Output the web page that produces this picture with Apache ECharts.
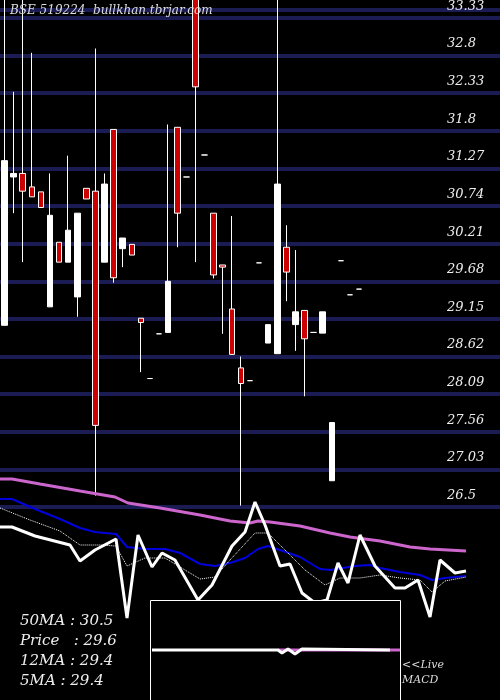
<!DOCTYPE html>
<html><head><meta charset="utf-8">
<script src="https://cdn.jsdelivr.net/npm/echarts@6/dist/echarts.min.js"></script>
<style>html,body{margin:0;padding:0;background:#000}#c{width:500px;height:700px}</style>
</head><body><div id="c"></div>
<script>
// candles: [open, close, low, high]; doji entries drawn as dashes
const candles = [
 [29.06,31.38,29.06,34],[31.15,31.20,30.64,32.35],[31.20,30.95,29.95,34],[31.01,30.87,30.87,32.90],
 [30.94,30.72,30.72,30.94],[29.32,30.61,29.32,31.20],[30.23,29.95,29.95,30.23],[29.95,30.40,29.95,31.45],
 [29.46,30.64,29.18,30.64],[30.99,30.84,30.84,30.99],[30.95,27.65,26.66,32.96],[29.95,31.05,29.95,31.20],
 [31.82,29.73,29.66,31.82],[30.14,30.29,29.88,30.29],[30.20,30.05,30.05,30.20],[29.16,29.10,28.40,29.16],
 [28.31,28.31,28.31,28.31],[28.94,28.94,28.94,28.94],[28.96,29.68,28.96,31.89],[31.85,30.64,30.16,31.85],
 [31.15,31.15,31.15,31.15],[34,32.42,29.95,34],[31.46,31.46,31.46,31.46],[30.64,29.77,29.72,30.64],
 [29.91,29.88,28.94,29.91],[29.29,28.65,28.65,30.60],[28.46,28.24,26.52,28.62],[28.28,28.28,28.28,28.28],
 [29.94,29.94,29.94,29.94],[28.81,29.07,28.81,29.07],[28.66,31.05,28.66,34],[30.16,29.81,29.40,30.47],
 [29.07,29.25,28.70,30.12],[29.27,28.87,28.06,29.27],[28.96,28.96,28.96,28.96],[28.95,29.25,28.95,29.25],
 [26.87,27.69,26.87,27.69],[29.97,29.97,29.97,29.97],[29.49,29.49,29.49,29.49],[29.57,29.57,29.57,29.57]
];
const slots = 55;
const categories = Array.from({length: slots}, (_, i) => String(i + 1));
const priceTicks = [26.5,27.03,27.56,28.09,28.62,29.15,29.68,30.21,30.74,31.27,31.8,32.33,32.8,33.33];
// indicator lines (x, level as read in picture units)
const ma50X = [0,12,40,80,115,128,160,200,230,250,258,270,300,330,350,380,410,430,466];
const ma50Y = [479,479,484,491,497,503,508,515,521,523,521,522,526,533,537,541,547,549,551];
const blueX = [0,12,35,60,80,95,116,127,145,165,180,200,215,230,245,258,268,280,300,320,330,355,370,380,400,420,432,445,466];
const blueY = [499,499,509,519,528,532,534,547,549,549,553,564,566,563,558,549,546,550,557,569,570,566,565,568,572,575,580,578,576];
const dotX = [0,30,60,80,100,116,127,145,165,185,200,215,230,255,268,285,305,325,340,360,380,400,420,432,445,466];
const dotY = [508,520,531,545,545,546,566,558,558,570,579,577,560,533,533,550,570,585,578,578,575,578,580,592,581,577];
const priceX = [0,12,35,70,80,95,116,127,138,152,162,175,198,212,232,245,255,265,280,290,302,315,327,338,348,360,375,395,405,418,430,440,455,466];
const priceY = [527,527,536,545,561,550,539,618,535,567,553,560,600,585,546,532,502,525,566,564,593,603,600,563,583,535,566,588,588,580,617,560,573,571];
const macdX = [152,278,282,288,295,302,390];
const macdY = [650,650,653,649,654,649,650];
const sigX = [278,302,390,400];
const sigY = [650,650,650,650];
const zip = (a,b) => a.map((v,i)=>[v,b[i]]);
const infoLines = ['50MA : 30.5','Price   : 29.6','12MA : 29.4','5MA : 29.4'];

const serif = 'DejaVu Serif';
const chart = echarts.init(document.getElementById('c'));
chart.setOption({
  backgroundColor:'#000', animation:false,
  grid:[{left:-1.5,right:-3,top:0,bottom:193},{left:0,right:0,top:470,bottom:0}],
  xAxis:[
    {type:'category',data:categories,gridIndex:0,show:false,boundaryGap:true},
    {type:'value',gridIndex:1,min:0,max:500,show:false}
  ],
  yAxis:[
    {type:'value',gridIndex:0,position:'right',min:26.5,max:33.51,interval:0.53,
     axisLine:{show:false},axisTick:{show:false},
     splitLine:{show:true,lineStyle:{color:'#1c1c55',width:4}},
     axisLabel:{inside:true,margin:53,align:'left',verticalAlign:'bottom',padding:[0,0,5,0],
       color:'#eee',fontFamily:serif,fontStyle:'italic',fontSize:13,
       formatter:v=>{let best=priceTicks[0];for(const p of priceTicks){if(Math.abs(p-v)<Math.abs(best-v))best=p;}return Math.abs(best-v)<0.1?String(best):'';}}},
    {type:'value',gridIndex:1,min:470,max:700,inverse:true,show:false}
  ],
  graphic:[
    {type:'text',z:50,left:10,top:5,style:{text:'BSE 519224  bullkhan.tbrjar.com',fill:'#ddd',font:'italic 12px "DejaVu Serif"'}},
    {type:'rect',z:10,shape:{x:150.5,y:600.5,width:250,height:110},style:{fill:'#000',stroke:'#fff',lineWidth:1}},
    ...infoLines.map((t,i)=>({type:'text',z:30,left:20,top:614+i*20,style:{text:t,fill:'#eee',font:'italic 15px "DejaVu Serif"'}})),
    {type:'text',z:30,left:402,top:658,style:{text:'<<Live\nMACD',fill:'#ddd',font:'italic 11px "DejaVu Serif"',lineHeight:15}}
  ],
  series:[
    {type:'candlestick',xAxisIndex:0,yAxisIndex:0,data:candles,barWidth:6,clip:true,
     itemStyle:{color:'#fff',color0:'#cc0000',borderColor:'#fff',borderColor0:'#fff',borderWidth:1}},
    {type:'line',xAxisIndex:1,yAxisIndex:1,data:zip(ma50X,ma50Y),symbol:'none',z:3,lineStyle:{color:'#cc66cc',width:3}},
    {type:'line',xAxisIndex:1,yAxisIndex:1,data:zip(blueX,blueY),symbol:'none',z:3,lineStyle:{color:'#0000dd',width:2}},
    {type:'line',xAxisIndex:1,yAxisIndex:1,data:zip(dotX,dotY),symbol:'none',z:3,lineStyle:{color:'#fff',width:1,type:'dotted'}},
    {type:'line',xAxisIndex:1,yAxisIndex:1,data:zip(priceX,priceY),symbol:'none',z:4,lineStyle:{color:'#fff',width:3}},
    {type:'line',xAxisIndex:1,yAxisIndex:1,data:zip(sigX,sigY),symbol:'none',z:20,lineStyle:{color:'#cc66cc',width:3}},
    {type:'line',xAxisIndex:1,yAxisIndex:1,data:zip(macdX,macdY),symbol:'none',z:21,lineStyle:{color:'#fff',width:3}}
  ]
});
</script></body></html>
